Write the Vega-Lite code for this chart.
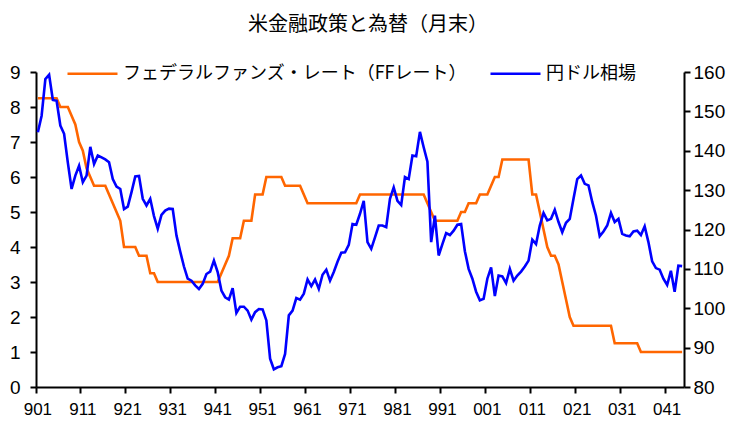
{
"$schema": "https://vega.github.io/schema/vega-lite/v6.json",
"width": 648, "height": 315,
"autosize": {"type": "none"},
"padding": {"left": 36, "top": 72, "right": 50, "bottom": 42},
"background": "white",
"title": {"text": "米金融政策と為替（月末）", "font": "Noto Sans CJK JP", "fontSize": 20, "fontWeight": "normal", "color": "#000000", "anchor": "middle", "offset": 12, "dx": 8},
"data": {"values": [
{"m":"1990-01","ff":8.25,"jpy":144.7},{"m":"1990-02","ff":8.25,"jpy":148.9},{"m":"1990-03","ff":8.25,"jpy":158.2},{"m":"1990-04","ff":8.25,"jpy":159.3},{"m":"1990-05","ff":8.25,"jpy":152.9},{"m":"1990-06","ff":8.25,"jpy":152.7},{"m":"1990-07","ff":8.0,"jpy":146.4},{"m":"1990-08","ff":8.0,"jpy":144.3},{"m":"1990-09","ff":8.0,"jpy":137.0},{"m":"1990-10","ff":7.75,"jpy":130.3},{"m":"1990-11","ff":7.5,"jpy":133.7},{"m":"1990-12","ff":7.0,"jpy":136.2},
{"m":"1991-01","ff":6.75,"jpy":132.0},{"m":"1991-02","ff":6.25,"jpy":133.7},{"m":"1991-03","ff":6.0,"jpy":141.0},{"m":"1991-04","ff":5.75,"jpy":136.6},{"m":"1991-05","ff":5.75,"jpy":138.8},{"m":"1991-06","ff":5.75,"jpy":138.3},{"m":"1991-07","ff":5.75,"jpy":137.8},{"m":"1991-08","ff":5.5,"jpy":137.1},{"m":"1991-09","ff":5.25,"jpy":132.8},{"m":"1991-10","ff":5.0,"jpy":130.9},{"m":"1991-11","ff":4.75,"jpy":130.3},{"m":"1991-12","ff":4.0,"jpy":125.2},
{"m":"1992-01","ff":4.0,"jpy":125.8},{"m":"1992-02","ff":4.0,"jpy":129.5},{"m":"1992-03","ff":4.0,"jpy":133.5},{"m":"1992-04","ff":3.75,"jpy":133.6},{"m":"1992-05","ff":3.75,"jpy":127.8},{"m":"1992-06","ff":3.75,"jpy":126.1},{"m":"1992-07","ff":3.25,"jpy":127.8},{"m":"1992-08","ff":3.25,"jpy":123.4},{"m":"1992-09","ff":3.0,"jpy":120.2},{"m":"1992-10","ff":3.0,"jpy":123.7},{"m":"1992-11","ff":3.0,"jpy":124.8},{"m":"1992-12","ff":3.0,"jpy":125.3},
{"m":"1993-01","ff":3.0,"jpy":125.2},{"m":"1993-02","ff":3.0,"jpy":118.5},{"m":"1993-03","ff":3.0,"jpy":114.4},{"m":"1993-04","ff":3.0,"jpy":110.6},{"m":"1993-05","ff":3.0,"jpy":107.5},{"m":"1993-06","ff":3.0,"jpy":107.0},{"m":"1993-07","ff":3.0,"jpy":105.8},{"m":"1993-08","ff":3.0,"jpy":104.9},{"m":"1993-09","ff":3.0,"jpy":106.2},{"m":"1993-10","ff":3.0,"jpy":108.7},{"m":"1993-11","ff":3.0,"jpy":109.3},{"m":"1993-12","ff":3.0,"jpy":112.1},
{"m":"1994-01","ff":3.0,"jpy":109.2},{"m":"1994-02","ff":3.25,"jpy":104.5},{"m":"1994-03","ff":3.5,"jpy":102.8},{"m":"1994-04","ff":3.75,"jpy":102.2},{"m":"1994-05","ff":4.25,"jpy":105.1},{"m":"1994-06","ff":4.25,"jpy":98.8},{"m":"1994-07","ff":4.25,"jpy":100.4},{"m":"1994-08","ff":4.75,"jpy":100.4},{"m":"1994-09","ff":4.75,"jpy":99.4},{"m":"1994-10","ff":4.75,"jpy":97.1},{"m":"1994-11","ff":5.5,"jpy":99.0},{"m":"1994-12","ff":5.5,"jpy":99.8},
{"m":"1995-01","ff":5.5,"jpy":99.7},{"m":"1995-02","ff":6.0,"jpy":96.9},{"m":"1995-03","ff":6.0,"jpy":87.2},{"m":"1995-04","ff":6.0,"jpy":84.5},{"m":"1995-05","ff":6.0,"jpy":85.0},{"m":"1995-06","ff":6.0,"jpy":85.3},{"m":"1995-07","ff":5.75,"jpy":88.4},{"m":"1995-08","ff":5.75,"jpy":98.2},{"m":"1995-09","ff":5.75,"jpy":99.4},{"m":"1995-10","ff":5.75,"jpy":102.6},{"m":"1995-11","ff":5.75,"jpy":102.2},{"m":"1995-12","ff":5.5,"jpy":103.7},
{"m":"1996-01","ff":5.25,"jpy":107.3},{"m":"1996-02","ff":5.25,"jpy":105.6},{"m":"1996-03","ff":5.25,"jpy":107.3},{"m":"1996-04","ff":5.25,"jpy":104.9},{"m":"1996-05","ff":5.25,"jpy":108.5},{"m":"1996-06","ff":5.25,"jpy":109.8},{"m":"1996-07","ff":5.25,"jpy":107.0},{"m":"1996-08","ff":5.25,"jpy":109.2},{"m":"1996-09","ff":5.25,"jpy":111.8},{"m":"1996-10","ff":5.25,"jpy":114.1},{"m":"1996-11","ff":5.25,"jpy":114.2},{"m":"1996-12","ff":5.25,"jpy":116.1},
{"m":"1997-01","ff":5.25,"jpy":121.4},{"m":"1997-02","ff":5.25,"jpy":121.2},{"m":"1997-03","ff":5.5,"jpy":124.0},{"m":"1997-04","ff":5.5,"jpy":127.3},{"m":"1997-05","ff":5.5,"jpy":116.8},{"m":"1997-06","ff":5.5,"jpy":115.1},{"m":"1997-07","ff":5.5,"jpy":118.0},{"m":"1997-08","ff":5.5,"jpy":121.0},{"m":"1997-09","ff":5.5,"jpy":121.0},{"m":"1997-10","ff":5.5,"jpy":120.6},{"m":"1997-11","ff":5.5,"jpy":127.8},{"m":"1997-12","ff":5.5,"jpy":130.7},
{"m":"1998-01","ff":5.5,"jpy":127.3},{"m":"1998-02","ff":5.5,"jpy":126.2},{"m":"1998-03","ff":5.5,"jpy":133.3},{"m":"1998-04","ff":5.5,"jpy":132.8},{"m":"1998-05","ff":5.5,"jpy":138.8},{"m":"1998-06","ff":5.5,"jpy":138.6},{"m":"1998-07","ff":5.5,"jpy":144.8},{"m":"1998-08","ff":5.5,"jpy":140.9},{"m":"1998-09","ff":5.25,"jpy":137.2},{"m":"1998-10","ff":5.0,"jpy":116.8},{"m":"1998-11","ff":4.75,"jpy":123.5},{"m":"1998-12","ff":4.75,"jpy":113.4},
{"m":"1999-01","ff":4.75,"jpy":116.3},{"m":"1999-02","ff":4.75,"jpy":119.1},{"m":"1999-03","ff":4.75,"jpy":118.6},{"m":"1999-04","ff":4.75,"jpy":119.7},{"m":"1999-05","ff":4.75,"jpy":121.2},{"m":"1999-06","ff":5.0,"jpy":121.4},{"m":"1999-07","ff":5.0,"jpy":114.5},{"m":"1999-08","ff":5.25,"jpy":110.0},{"m":"1999-09","ff":5.25,"jpy":107.5},{"m":"1999-10","ff":5.25,"jpy":104.2},{"m":"1999-11","ff":5.5,"jpy":102.0},{"m":"1999-12","ff":5.5,"jpy":102.4},
{"m":"2000-01","ff":5.5,"jpy":107.5},{"m":"2000-02","ff":5.75,"jpy":110.4},{"m":"2000-03","ff":6.0,"jpy":103.1},{"m":"2000-04","ff":6.0,"jpy":108.3},{"m":"2000-05","ff":6.5,"jpy":108.1},{"m":"2000-06","ff":6.5,"jpy":106.4},{"m":"2000-07","ff":6.5,"jpy":110.0},{"m":"2000-08","ff":6.5,"jpy":107.0},{"m":"2000-09","ff":6.5,"jpy":108.3},{"m":"2000-10","ff":6.5,"jpy":109.3},{"m":"2000-11","ff":6.5,"jpy":110.6},{"m":"2000-12","ff":6.5,"jpy":112.1},
{"m":"2001-01","ff":5.5,"jpy":117.4},{"m":"2001-02","ff":5.5,"jpy":116.3},{"m":"2001-03","ff":5.0,"jpy":121.0},{"m":"2001-04","ff":4.5,"jpy":124.2},{"m":"2001-05","ff":4.0,"jpy":122.3},{"m":"2001-06","ff":3.75,"jpy":122.7},{"m":"2001-07","ff":3.75,"jpy":125.0},{"m":"2001-08","ff":3.5,"jpy":121.9},{"m":"2001-09","ff":3.0,"jpy":119.3},{"m":"2001-10","ff":2.5,"jpy":121.7},{"m":"2001-11","ff":2.0,"jpy":122.7},{"m":"2001-12","ff":1.75,"jpy":127.8},
{"m":"2002-01","ff":1.75,"jpy":132.8},{"m":"2002-02","ff":1.75,"jpy":133.7},{"m":"2002-03","ff":1.75,"jpy":131.6},{"m":"2002-04","ff":1.75,"jpy":131.2},{"m":"2002-05","ff":1.75,"jpy":127.0},{"m":"2002-06","ff":1.75,"jpy":123.5},{"m":"2002-07","ff":1.75,"jpy":118.3},{"m":"2002-08","ff":1.75,"jpy":119.5},{"m":"2002-09","ff":1.75,"jpy":121.0},{"m":"2002-10","ff":1.75,"jpy":124.2},{"m":"2002-11","ff":1.25,"jpy":121.9},{"m":"2002-12","ff":1.25,"jpy":122.7},
{"m":"2003-01","ff":1.25,"jpy":118.9},{"m":"2003-02","ff":1.25,"jpy":118.5},{"m":"2003-03","ff":1.25,"jpy":118.3},{"m":"2003-04","ff":1.25,"jpy":119.5},{"m":"2003-05","ff":1.25,"jpy":119.7},{"m":"2003-06","ff":1.0,"jpy":118.6},{"m":"2003-07","ff":1.0,"jpy":120.8},{"m":"2003-08","ff":1.0,"jpy":116.8},{"m":"2003-09","ff":1.0,"jpy":111.9},{"m":"2003-10","ff":1.0,"jpy":110.2},{"m":"2003-11","ff":1.0,"jpy":109.8},{"m":"2003-12","ff":1.0,"jpy":107.5},
{"m":"2004-01","ff":1.0,"jpy":105.9},{"m":"2004-02","ff":1.0,"jpy":109.5},{"m":"2004-03","ff":1.0,"jpy":104.2},{"m":"2004-04","ff":1.0,"jpy":110.8},{"m":"2004-05","ff":1.0,"jpy":110.7}
]},
"encoding": {
  "x": {"field": "m", "type": "ordinal", "bandPosition": 0.5,
    "scale": {"type": "band", "paddingInner": 0, "paddingOuter": 0},
    "axis": {"title": null, "values": ["1990-01","1991-01","1992-01","1993-01","1994-01","1995-01","1996-01","1997-01","1998-01","1999-01","2000-01","2001-01","2002-01","2003-01","2004-01"],
      "labelExpr": "substring(datum.value, 2, 4) + '1'", "bandPosition": 0, "labelAngle": 0, "labelFontSize": 17, "labelPadding": 8, "tickSize": 6}}
},
"layer": [
  {"mark": {"type": "line", "strokeWidth": 2.6, "clip": false},
   "encoding": {
     "y": {"field": "ff", "type": "quantitative", "scale": {"domain": [0, 9], "nice": false, "zero": true},
       "axis": {"orient": "left", "title": null, "values": [0,1,2,3,4,5,6,7,8,9], "labelFontSize": 19, "labelPadding": 10, "tickSize": 6}},
     "color": {"datum": "フェデラルファンズ・レート（FFレート）", "type": "nominal",
       "scale": {"domain": ["フェデラルファンズ・レート（FFレート）", "円ドル相場"], "range": ["#FF6600", "#0000FF"]},
       "legend": {"orient": "none", "legendX": 30, "legendY": -25, "direction": "horizontal", "title": null,
         "symbolType": "stroke", "symbolSize": 2500, "symbolStrokeWidth": 2.6, "labelLimit": 0,
         "labelFont": "Noto Sans CJK JP", "labelFontSize": 18, "labelColor": "#000000", "labelOffset": 4, "columnPadding": 18}}
   }},
  {"mark": {"type": "line", "strokeWidth": 2.6, "clip": false},
   "encoding": {
     "y": {"field": "jpy", "type": "quantitative", "scale": {"domain": [80, 160], "nice": false, "zero": false},
       "axis": {"orient": "right", "title": null, "values": [80,90,100,110,120,130,140,150,160], "labelFontSize": 19, "labelPadding": 3, "tickSize": 6}},
     "color": {"datum": "円ドル相場", "type": "nominal"}
   }}
],
"resolve": {"scale": {"y": "independent"}},
"config": {
  "view": {"stroke": null},
  "axis": {"grid": false, "domainColor": "#000000", "domainWidth": 2, "tickColor": "#000000", "tickWidth": 2, "labelColor": "#000000", "labelFont": "Liberation Sans"}
}
}
